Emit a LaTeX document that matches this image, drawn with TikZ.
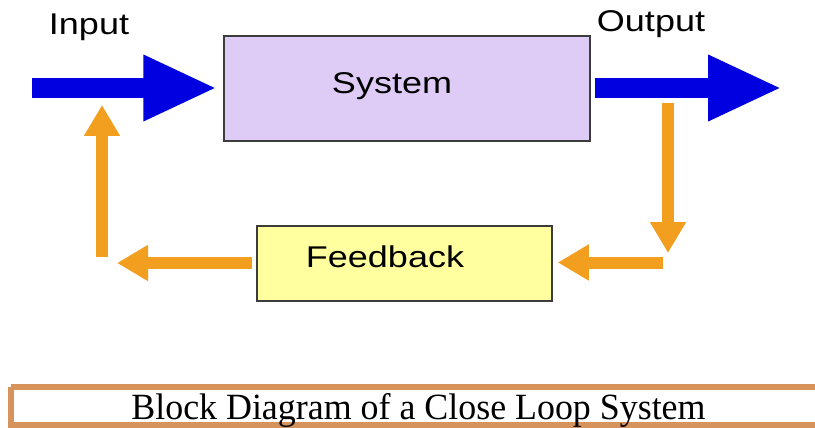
\documentclass[tikz,border=0pt]{standalone}
\usepackage{fontspec}
\usetikzlibrary{arrows.meta}
\newfontfamily\lsans[FakeStretch=1.2]{Liberation Sans}
\newfontfamily\lserif[FakeStretch=0.97]{Liberation Serif}
\definecolor{bigblue}{RGB}{0,0,225}
\definecolor{fbor}{RGB}{242,158,30}
\definecolor{lav}{RGB}{222,204,246}
\definecolor{lyel}{RGB}{255,255,160}
\definecolor{tan}{RGB}{214,148,92}
\definecolor{edge}{RGB}{60,60,60}
\tikzset{
  blk/.style={draw=edge, line width=1.5pt, inner sep=0pt},
  lbl/.style={anchor=base, inner sep=0pt, font=\lsans\fontsize{30}{36}\selectfont, text=black},
  barrow/.style={draw=bigblue, line width=20pt, -{Triangle[length=74pt,width=61pt]}},
  oarrow/.style={draw=fbor, line width=12pt, -{Triangle[length=31pt,width=34pt]}},
}
\begin{document}
\begin{tikzpicture}[x=1pt,y=-1pt]
\useasboundingbox (0,0) rectangle (815,428);
\fill[white] (0,0) rectangle (815,428);
% boxes
\node[blk, fill=lav, minimum width=366pt, minimum height=105pt] (sys) at (407,88.5) {};
\node[blk, fill=lyel, minimum width=295pt, minimum height=75pt] (fb) at (404.5,263.5) {};
\node[lbl] (systxt) at (392,94) {System};
\node[lbl] (fbtxt) at (385,267) {Feedback};
\node[lbl] (intxt) at (89,35) {Input};
\node[lbl] (outtxt) at (651,31.5) {Output};
% coordinates
\coordinate (inS) at (32,88);
\coordinate (outE) at (782,88);
\coordinate (r1) at (668,103);
\coordinate (r2) at (668,253);
\coordinate (r3) at (663,262.5);
\coordinate (l1) at (117,263);
\coordinate (l2) at (102,257);
\coordinate (l3) at (102,105);
% blue arrows
\draw[barrow] (inS) -- ([xshift=-6pt]sys.west |- inS);
\draw[barrow] ([xshift=4pt]sys.east |- outE) -- (outE);
% orange feedback loop
\draw[oarrow] (r1) -- (r2);
\draw[oarrow] (r3) -- ([xshift=5pt]fb.east |- r3);
\draw[oarrow] ([xshift=-4pt]fb.west |- l1) -- (l1);
\draw[oarrow] (l2) -- (l3);
% caption
\draw[tan, line width=5.5pt] (11,387) -- (830,387) (11,387) -- (11,425) -- (830,425);
\node[anchor=base, inner sep=0pt, font=\lserif\fontsize{37}{40}\selectfont] (cap) at (418.5,419) {Block Diagram of a Close Loop System};
\end{tikzpicture}
\end{document}
